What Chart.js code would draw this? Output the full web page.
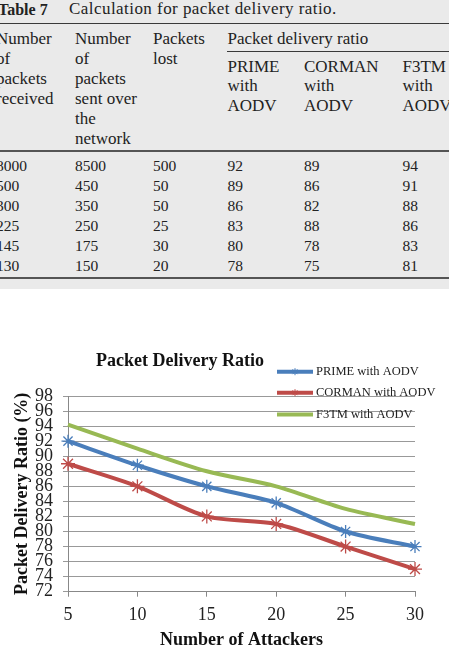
<!DOCTYPE html>
<html>
<head>
<meta charset="utf-8">
<script src="https://cdn.jsdelivr.net/npm/chart.js@4/dist/chart.umd.min.js"></script>
<style>
  html, body { margin: 0; padding: 0; background: #fff; }
  body { width: 449px; height: 651px; position: relative; overflow: hidden; font-family: "Liberation Serif", "Times New Roman", serif; color: #222; }
  #tbl { position: absolute; left: 0; top: 0; width: 449px; height: 289px; background: #eaeaea; overflow: hidden; }
  .t { position: absolute; white-space: nowrap; line-height: 20px; }
  .rule { position: absolute; background: #3a3a3a; }
  #wrap { position: absolute; left: 0; top: 300px; width: 449px; height: 351px; }
</style>
</head>
<body>
<div id="tbl"></div>
<div id="wrap"><canvas id="pdr" width="449" height="351"></canvas></div>
<script>
// table 7 values
const received = ['8000', '500', '300', '225', '145', '130'];
const sent = ['8500', '450', '350', '250', '175', '150'];
const lost = ['500', '50', '50', '25', '30', '20'];
const tblPrime = ['92', '89', '86', '83', '80', '78'];
const tblCorman = ['89', '86', '82', '88', '78', '75'];
const tblF3tm = ['94', '91', '88', '86', '83', '81'];

// chart values
const attackers = ['5', '10', '15', '20', '25', '30'];
const prime = [92, 88.8, 86, 83.8, 80, 78];
const corman = [89, 86, 82, 81, 78, 75];
const f3tm = [94.2, 91, 88, 86, 83, 81];
const yTicks = { min: 72, max: 98, step: 2 };

const BLUE = '#4a7ebb', RED = '#be4b48', GREEN = '#98b954';

// --- table ---
const tbl = document.getElementById('tbl');
function put(text, x, baseline, size, bold, extra) {
    const d = document.createElement('div');
    d.className = 't';
    d.textContent = text;
    d.style.left = x + 'px';
    d.style.top = (baseline - 10 - 0.3375 * size) + 'px';
    d.style.fontSize = size + 'px';
    if (bold) d.style.fontWeight = 'bold';
    if (extra) d.style.letterSpacing = extra;
    tbl.appendChild(d);
}
function rule(x, y, w, h, col) {
    const r = document.createElement('div');
    r.className = 'rule';
    r.style.left = x + 'px'; r.style.top = y + 'px';
    r.style.width = w + 'px'; r.style.height = h + 'px';
    if (col) r.style.background = col;
    tbl.appendChild(r);
}

put('Table 7', -2, 15, 16, true);
put('Calculation for packet delivery ratio.', 69, 15, 17, false, '0.45px');
rule(0, 22.5, 449, 1.5);

const colX = [-4, 75, 153, 227.5, 304, 402.5];
const lh = 19.9;
const heads = [
    ['Number', 'of', 'packets', 'received'],
    ['Number', 'of', 'packets', 'sent over', 'the', 'network'],
    ['Packets', 'lost']
];
heads.forEach((lines, c) => lines.forEach((s, i) => put(s, colX[c], 45 + i * lh, 17)));
put('Packet delivery ratio', colX[3], 45, 17);
rule(227, 51, 222, 1.2);
const subHeads = [['PRIME', 'with', 'AODV'], ['CORMAN', 'with', 'AODV'], ['F3TM', 'with', 'AODV']];
subHeads.forEach((lines, c) => lines.forEach((s, i) => put(s, colX[3 + c], 72.3 + i * lh, 17)));
rule(0, 150, 449, 2, '#555');

const cols = [received, sent, lost, tblPrime, tblCorman, tblF3tm];
cols.forEach((vals, c) => vals.forEach((v, r) => put(v, colX[c], 171.5 + r * 20, 15.5)));
rule(0, 277, 449, 2, '#555');

// --- chart ---
const FONT = '"Liberation Serif", "Times New Roman", serif';

const overlay = {
    id: 'overlay',
    afterDraw(chart) {
        const ctx = chart.ctx;
        ctx.save();
        ctx.fillStyle = '#111';
        ctx.font = 'bold 18px ' + FONT;
        ctx.textAlign = 'center';
        ctx.textBaseline = 'middle';
        ctx.fillText('Packet Delivery Ratio', 180, 61.7);

        const rows = [71.7, 92.7, 114.5];
        chart.data.datasets.forEach((ds, i) => {
            const y = rows[i];
            ctx.strokeStyle = ds.borderColor;
            ctx.lineWidth = 4;
            ctx.beginPath();
            ctx.moveTo(277, y);
            ctx.lineTo(313, y);
            ctx.stroke();
            if (ds.pointRadius > 0) {
                ctx.lineWidth = 1;
                Chart.helpers.drawPoint(ctx, { pointStyle: 'star', radius: 3.5, borderWidth: 1 }, 295, y);
            }
            ctx.fillStyle = '#222';
            ctx.font = '12.5px ' + FONT;
            ctx.textAlign = 'left';
            ctx.fillText(ds.label, 316, y + 0.5);
        });
        ctx.restore();
    }
};

const ctx = document.getElementById('pdr').getContext('2d');
new Chart(ctx, {
    type: 'line',
    data: {
        labels: attackers,
        datasets: [
            { label: 'PRIME with AODV', data: prime, borderColor: BLUE, backgroundColor: BLUE,
              pointStyle: 'star', pointRadius: 6.5, pointBorderWidth: 1.3, pointBorderColor: BLUE },
            { label: 'CORMAN with AODV', data: corman, borderColor: RED, backgroundColor: RED,
              pointStyle: 'star', pointRadius: 7, pointBorderWidth: 1.3, pointBorderColor: RED },
            { label: 'F3TM with AODV', data: f3tm, borderColor: GREEN, backgroundColor: GREEN,
              pointRadius: 0 }
        ]
    },
    options: {
        responsive: false,
        animation: false,
        devicePixelRatio: 1,
        elements: { line: { borderWidth: 4, tension: 0.3 } },
        layout: { padding: { top: 96, right: 34, left: 0, bottom: 0 } },
        plugins: { legend: { display: false }, title: { display: false }, tooltip: { enabled: false } },
        scales: {
            x: {
                offset: false,
                afterFit: s => { s.height = 59.3; },
                grid: { drawOnChartArea: false, drawTicks: true, tickLength: 5, color: '#888' },
                border: { color: '#888', width: 1 },
                ticks: { color: '#222', font: { family: FONT, size: 18 }, padding: 8, maxRotation: 0 },
                title: { display: true, text: 'Number of Attackers', color: '#111',
                         font: { family: FONT, size: 18, weight: 'bold' }, padding: { top: 4, bottom: 0 } }
            },
            y: {
                min: yTicks.min, max: yTicks.max,
                afterFit: s => { s.width = 68; },
                grid: { color: '#999', lineWidth: 1, tickLength: 5 },
                border: { color: '#888', width: 1 },
                ticks: { stepSize: yTicks.step, autoSkip: false, color: '#222',
                         font: { family: FONT, size: 18, lineHeight: 0.45 }, padding: 10 },
                title: { display: true, text: 'Packet Delivery Ratio (%)', color: '#111',
                         font: { family: FONT, size: 18, weight: 'bold' }, padding: { top: 12, bottom: 0 } }
            }
        }
    },
    plugins: [overlay]
});
</script>
</body>
</html>
